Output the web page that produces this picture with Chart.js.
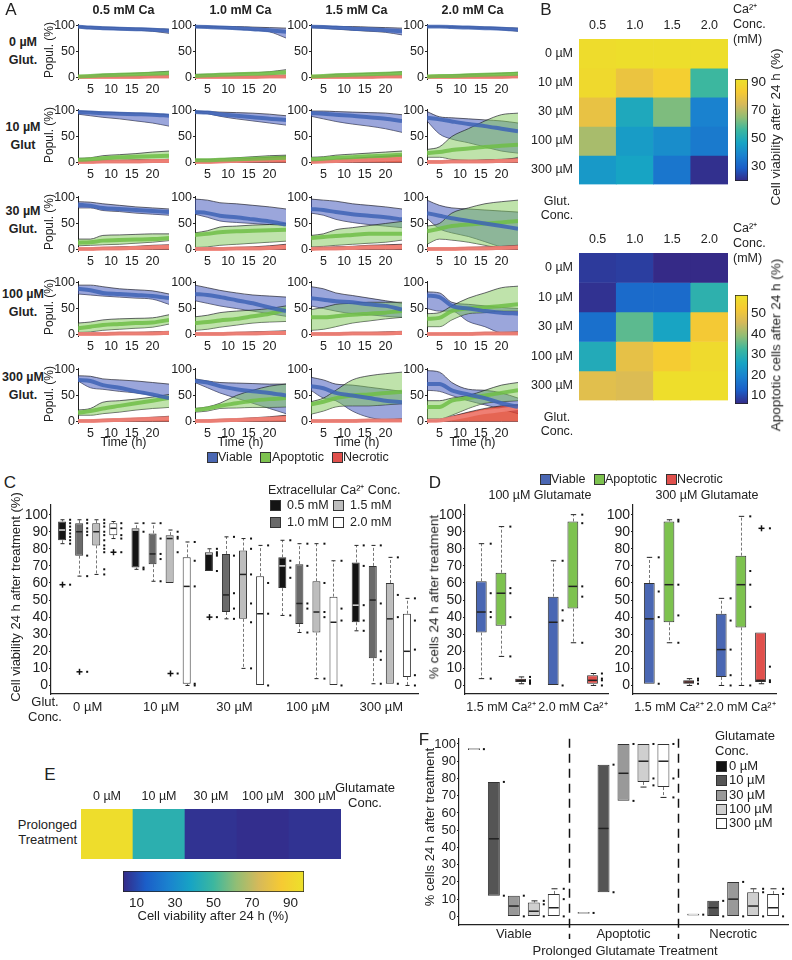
<!DOCTYPE html>
<html>
<head>
<meta charset="utf-8">
<title>Glutamate / calcium cell viability figure</title>
<script src="https://cdn.jsdelivr.net/npm/chart.js@4.4.1/dist/chart.umd.min.js"></script>
<style>
  body { margin: 0; background: #fff; }
  #fig { position: relative; width: 792px; height: 960px; overflow: hidden;
         font-family: "Liberation Sans", Arial, sans-serif; color: #222; }
  #fig canvas { position: absolute; }
  .t { position: absolute; white-space: pre; line-height: 1.15; }
  .sw { position: absolute; width: 9px; height: 9px; border: 1px solid #333; }
</style>
</head>
<body>
<div id="fig"></div>
<script>
'use strict';

// ---------------- data ----------------
const caLevels = ['0.5', '1.0', '1.5', '2.0'];
const glutLevels = ['0 µM', '10 µM', '30 µM', '100 µM', '300 µM'];
const yTicks10 = [0, 10, 20, 30, 40, 50, 60, 70, 80, 90, 100];

// A: population time courses, [glut row][Ca column][time]
const hours = [2, 5, 8, 12, 16, 20, 24];
const timeTicks = [5, 10, 15, 20];
const viableHi = [
  [[99,98,97,96,95,94,93], [99,99,98,98,97,96,95], [99,99,98,98,97,96,95], [99,99,98,98,97,96,95]],
  [[99,98,97,96,95,94,92], [99,98,97,96,95,93,90], [99,99,98,97,96,95,92], [98,88,86,84,82,80,76]],
  [[92,91,88,85,82,80,78], [97,95,90,88,85,82,78], [97,95,93,88,85,82,78], [95,85,80,78,76,74,72]],
  [[95,95,92,88,86,84,78], [95,90,85,80,76,74,72], [92,88,80,75,70,65,60], [82,80,62,58,55,52,50]],
  [[88,87,82,80,78,75,72], [82,78,75,74,73,72,72], [85,80,72,70,66,62,58], [98,95,75,62,60,55,45]]
];
const viableMid = [
  [[98,96,95,94,93,92,90], [98,97,96,95,93,91,88], [98,97,96,94,93,91,89], [98,98,97,96,95,94,92]],
  [[97,96,95,94,93,92,90], [97,96,93,90,87,84,82], [95,94,92,90,87,84,80], [86,83,79,74,70,65,60]],
  [[86,84,80,78,76,74,72], [72,70,65,62,58,54,48], [78,76,72,68,65,62,58], [70,65,60,55,50,45,40]],
  [[88,85,80,78,76,74,70], [78,76,72,66,60,52,45], [70,67,64,62,58,55,48], [75,72,55,50,45,42,40]],
  [[80,78,70,65,58,52,45], [78,75,68,62,58,55,50], [68,64,55,50,45,40,37], [72,72,60,52,45,35,28]]
];
const viableLo = [
  [[96,94,93,92,91,89,85], [96,96,95,93,91,88,76], [96,95,93,91,89,87,82], [97,97,96,95,94,92,89]],
  [[93,90,87,84,80,76,70], [96,94,89,84,80,76,72], [89,84,79,74,70,65,58], [80,55,45,38,30,22,18]],
  [[80,80,75,73,70,68,66], [68,62,55,52,50,48,46], [70,66,58,52,48,45,42], [60,40,32,25,15,5,2]],
  [[78,76,74,72,70,68,58], [65,60,55,50,45,40,35], [55,50,45,40,38,35,33], [50,45,45,25,15,3,2]],
  [[78,65,62,58,55,50,42], [75,65,55,45,35,25,15], [60,45,40,20,8,3,2], [60,58,50,40,32,24,15]]
];
const apopHi = [
  [[3,4,6,7,8,10,12], [6,6,7,8,9,11,15], [3,4,6,7,8,9,11], [3,4,5,6,7,8,10]],
  [[8,9,13,15,17,20,22], [6,6,7,9,11,13,14], [10,11,14,16,18,20,22], [25,30,50,65,80,92,95]],
  [[20,20,27,28,29,30,30], [32,36,43,45,47,48,50], [27,30,38,42,46,50,54], [45,50,70,80,88,92,95]],
  [[22,24,28,30,31,32,38], [34,37,42,45,47,50,55], [48,52,58,60,62,62,62], [40,42,55,70,80,90,93]],
  [[22,25,37,40,43,47,52], [25,28,35,50,60,68,72], [38,45,60,80,88,92,95], [40,40,45,50,60,70,75]]
];
const apopMid = [
  [[2,3,4,5,6,7,8], [3,4,5,6,7,8,10], [2,3,4,5,6,7,8], [2,3,3,4,5,6,7]],
  [[5,6,8,10,11,12,13], [4,4,5,6,7,8,9], [6,7,9,10,12,13,15], [18,20,24,27,30,32,34]],
  [[13,14,17,18,19,20,22], [28,30,33,35,36,37,38], [22,24,26,28,30,30,30], [35,40,45,48,50,52,55]],
  [[12,15,18,20,22,23,28], [22,24,27,30,35,40,48], [33,33,35,38,40,42,45], [30,32,45,50,52,55,58]],
  [[17,20,25,30,35,40,45], [22,25,30,35,40,43,45], [33,38,45,50,52,55,57], [28,28,40,45,50,55,60]]
];
const apopLo = [
  [[1,1,2,2,2,3,3], [1,1,2,2,2,3,3], [1,1,2,2,2,3,3], [1,1,1,2,2,2,3]],
  [[2,3,3,4,4,5,5], [1,2,2,3,3,4,4], [2,3,3,4,5,6,7], [10,10,6,4,3,4,10]],
  [[7,8,9,10,12,14,17], [4,5,8,10,12,14,16], [5,6,8,10,12,14,18], [10,20,18,14,8,3,3]],
  [[4,5,8,10,12,14,20], [8,10,14,18,22,24,25], [8,10,15,22,26,30,33], [15,15,28,40,42,45,45]],
  [[12,12,15,18,22,25,27], [18,20,25,26,27,27,28], [14,20,28,30,30,32,34], [5,5,12,25,35,38,40]]
];
const necrHi = [
  [[2,2,3,3,3,4,4], [2,2,3,3,3,4,4], [2,2,3,3,3,4,4], [2,2,2,3,3,3,4]],
  [[3,3,4,4,5,5,6], [2,3,4,6,8,10,12], [3,4,6,8,10,12,14], [3,3,4,4,5,6,8]],
  [[2,3,4,5,6,8,9], [2,3,3,4,5,7,10], [3,4,5,6,8,9,10], [2,3,3,4,5,6,8]],
  [[3,3,3,4,4,5,6], [2,3,3,4,5,6,7], [2,3,3,4,4,5,6], [2,2,3,3,4,4,5]],
  [[2,3,4,5,6,8,10], [2,3,4,5,7,9,12], [2,2,3,3,4,4,5], [2,3,10,18,25,30,32]]
];
const necrMid = [
  [[1,1,1,1,1,2,2], [1,1,1,1,1,2,2], [1,1,1,1,1,2,2], [1,1,1,1,1,1,2]],
  [[1,1,2,2,2,3,3], [1,1,2,3,4,5,6], [1,2,3,4,5,6,7], [1,1,2,2,2,3,4]],
  [[1,1,2,2,3,4,5], [1,1,1,2,2,3,5], [1,2,2,3,4,4,5], [1,1,1,2,2,3,4]],
  [[1,1,1,2,2,2,3], [1,1,1,2,2,3,3], [1,1,1,2,2,2,3], [1,1,1,1,2,2,2]],
  [[1,1,2,3,4,5,6], [1,1,2,3,4,5,6], [1,1,1,1,2,2,2], [1,2,6,12,18,22,26]]
];

// B: heat maps, [glut row][Ca column]
const viability24 = [
  [90, 91, 91, 91],
  [89, 80, 85, 56],
  [79, 49, 63, 38],
  [68, 45, 41, 36],
  [44, 47, 35, 21]
];
const apoptotic24 = [
  [8, 8.5, 6, 6],
  [7, 15, 15, 30],
  [16, 35, 26, 52],
  [28, 49, 53, 57],
  [48, 47, 58, 58]
];

// C: viability box plots, [Ca level][glut level]
const cLo  = [[83, 68, 67, 41, 32], [64, 61, 39, 31, 1], [65, 60, 10, 4, 1], [86, 0, 0, 0, 0]];
const cQ1  = [[85, 69, 67, 57, 37], [76, 71, 43, 36, 16], [82, 60, 39, 31, 1], [88, 1, 0, 0, 5]];
const cMed = [[91, 91, 77, 70, 47], [90, 77, 53, 48, 50], [90, 86, 65, 43, 39], [92, 58, 42, 37, 20]];
const cQ3  = [[96, 92, 78, 75, 72], [95, 89, 77, 71, 70], [95, 88, 79, 61, 60], [95, 75, 64, 52, 42]];
const cHi  = [[97, 95, 80, 85, 82], [97, 95, 87, 83, 82], [97, 91, 86, 83, 75], [96, 84, 82, 73, 51]];
const cOut = [[[59], [], [40], [], []], [[8], [], [], [], []], [[], [7], [], [], []], [[78], [], [], [], []]];
const cDots = [
  [[97,95,93,91,89,87,85,83,59], [95,90,69,68], [80,78,77,76,67,40], [85,73,69,63,41], [82,70,47,38,32]],
  [[97,95,92,90,88,76,64,8], [95,86,77,74,61], [87,76,54,45,39], [83,70,48,45,31], [82,48,20,15,1]],
  [[97,95,93,90,88,85,82,80,78,68,65], [90,87,86,78,7], [86,80,65,48,37,10], [83,60,43,40,4], [75,53,40,1]],
  [[95,92,88,86,78], [84,73,58,1,0], [82,60,42,0], [73,45,38,0], [51,38,21,6,0]]
];

// D: population box plots, [population][Ca 1.5, 2.0]
const dCaLabels = ['1.5 mM Ca²⁺', '2.0 mM Ca²⁺'];
const popNames = ['Viable', 'Apoptotic', 'Necrotic'];
const d100Lo  = [[4, 0], [17, 25], [1, 0]];
const d100Q1  = [[31, 0], [35, 45], [2, 1]];
const d100Med = [[43, 37], [54, 58], [3, 3]];
const d100Q3  = [[61, 52], [66, 96], [4, 6]];
const d100Hi  = [[83, 73], [93, 100], [5, 7]];
const d100Dots = [[[83,54,43,40,4], [73,44,38,0]], [[93,57,54,40,17], [100,95,58,52,25]], [[5,3,2,1], [7,4,3,0]]];
const d300Lo  = [[1, 0], [25, 0], [0, 1]];
const d300Q1  = [[1, 5], [37, 34], [1, 2]];
const d300Med = [[39, 21], [59, 59], [2, 3]];
const d300Q3  = [[60, 42], [96, 76], [3, 31]];
const d300Hi  = [[75, 51], [97, 99], [4, 31]];
const d300Out = [[[], []], [[], []], [[], [92]]];
const d300Dots = [[[75,55,40,1], [51,38,21,6,0]], [[97,96,59,41,25], [99,67,59,46,0]], [[4,3,1], [92,11,3,2]]];

// E: prolonged treatment viability, per glut level
const prolongedViability = [95, 45, 5, 4, 5];

// F: prolonged treatment box plots, [glut level][population]
const fLo  = [[97, 2, 1], [12, 14, 0], [0, 67, 0], [0, 75, 0], [0, 69, 0]];
const fQ1  = [[96.5, 1.5, 0.5], [12, 14, 0], [0, 67, 0], [0, 78, 0], [0, 75, 0]];
const fMed = [[97, 2, 1], [45, 51, 5], [6, 83, 10], [3, 90, 6], [5, 90, 5]];
const fQ3  = [[97.5, 2.5, 1.5], [78, 88, 9], [12, 100, 20], [8, 100, 14], [13, 100, 13]];
const fHi  = [[97, 2, 1], [78, 88, 9], [12, 100, 20], [9, 100, 16], [16, 100, 16]];
const fDots = [
  [[97], [2], [1]],
  [[78,12], [88,14], [9,0]],
  [[12,0], [100,67], [20,0]],
  [[9,7,0], [100,80,76], [16,14,0]],
  [[16,10,0], [100,80,69], [16,13,0]]
];

// ---------------- helpers ----------------
const fig = document.getElementById('fig');
Chart.defaults.font.family = '"Liberation Sans", Arial, sans-serif';
Chart.defaults.color = '#222';
Chart.defaults.animation = false;
Chart.defaults.responsive = false;
Chart.defaults.plugins.legend.display = false;
Chart.defaults.plugins.tooltip.enabled = false;

const popColors = ['#4a67b3', '#7dc24f', '#e0504c'];
const cBoxColors = ['#141414', '#6a6a6a', '#bdbdbd', '#ffffff'];
const fBoxColors = ['#111111', '#555555', '#999999', '#cfcfcf', '#ffffff'];
// parula-like colour map, slightly muted like the printed figure
const parulaStops = ['#352a87', '#1b5ec8', '#1a82cf', '#17a4c4', '#3cb79f', '#91be75', '#d6b95a', '#f6ca33', '#ece12a'];

function hexRgb(h) {
  return [1, 3, 5].map(i => parseInt(h.slice(i, i + 2), 16));
}

function parula(v, lo, hi) {
  const n = parulaStops.length - 1;
  const t = Math.min(1, Math.max(0, (v - lo) / (hi - lo))) * n;
  const i = Math.min(Math.floor(t), n - 1);
  const f = t - i;
  const a = hexRgb(parulaStops[i]), b = hexRgb(parulaStops[i + 1]);
  return 'rgb(' + a.map((c, k) => Math.round(c + (b[k] - c) * f)).join(',') + ')';
}

function addCanvas(x, y, w, h) {
  const c = document.createElement('canvas');
  c.width = w;
  c.height = h;
  c.style.left = x + 'px';
  c.style.top = y + 'px';
  c.style.width = w + 'px';
  c.style.height = h + 'px';
  fig.appendChild(c);
  return c;
}

function txt(s, x, y, o = {}) {
  const d = document.createElement('div');
  d.className = 't';
  d.textContent = s;
  d.style.fontSize = (o.size || 13) + 'px';
  if (o.bold) d.style.fontWeight = 'bold';
  if (o.lh) d.style.lineHeight = o.lh + 'px';
  d.style.textAlign = o.align || 'center';
  d.style.left = x + 'px';
  d.style.top = y + 'px';
  const ax = o.align === 'left' ? '0' : o.align === 'right' ? '-100%' : '-50%';
  d.style.transform = 'translate(' + ax + ',-50%)' + (o.rot ? ' rotate(-90deg)' : '');
  fig.appendChild(d);
}

function swatch(x, y, color) {
  const d = document.createElement('div');
  d.className = 'sw';
  d.style.left = x + 'px';
  d.style.top = (y - 5) + 'px';
  d.style.background = color;
  fig.appendChild(d);
}

const fixedTicks = list => s => { s.ticks = list.map(v => ({value: v})); };

// ---------------- A: small population charts ----------------
const aColLeft = [78, 195, 311, 427];
const aRowTop = [22, 107, 194, 279, 366];
const aPlotW = 91, aPlotH = 57;
const edge = 'rgba(30,30,40,0.85)';

function popChart(r, c) {
  const cv = addCanvas(aColLeft[c] - 32, aRowTop[r] - 6, 32 + aPlotW + 4, 6 + aPlotH + 20);
  const pts = arr => hours.map((h, i) => ({x: h, y: arr[i]}));
  const zero = hours.map(() => 0);
  const band = (hi, lo, fill, order) => [
    {data: pts(hi), fill: '+1', backgroundColor: fill, borderColor: edge, borderWidth: 0.8, order: order},
    {data: pts(lo), fill: false, borderColor: edge, borderWidth: 0.8, order: order}
  ];
  const mid = (m, color) => ({data: pts(m), fill: false, borderColor: color, borderWidth: 4, order: 0});
  new Chart(cv, {
    type: 'line',
    data: {datasets: [
      ...band(viableHi[r][c], viableLo[r][c], 'rgba(72,92,190,0.55)', 3),
      ...band(apopHi[r][c], apopLo[r][c], 'rgba(128,200,88,0.5)', 2),
      ...band(necrHi[r][c], zero, 'rgba(222,62,40,0.8)', 1),
      mid(viableMid[r][c], 'rgba(62,100,182,0.85)'),
      mid(apopMid[r][c], 'rgba(112,190,72,0.85)'),
      mid(necrMid[r][c], 'rgba(240,130,120,0.9)')
    ]},
    options: {
      layout: {padding: {top: 6, right: 4}},
      elements: {point: {radius: 0}, line: {cubicInterpolationMode: 'monotone'}},
      scales: {
        x: {
          type: 'linear', min: 2, max: 24,
          afterBuildTicks: fixedTicks(timeTicks),
          afterFit: s => { s.height = 20; },
          grid: {display: false, drawTicks: false},
          border: {display: false},
          ticks: {font: {size: 12.5}, padding: 3, autoSkip: false, maxRotation: 0}
        },
        y: {
          min: -3, max: 102,
          afterBuildTicks: fixedTicks([0, 50, 100]),
          afterFit: s => { s.width = 32; },
          grid: {drawOnChartArea: false, tickLength: 2, color: '#222'},
          border: {color: '#222'},
          ticks: {font: {size: 12.5}, padding: 1, autoSkip: false}
        }
      }
    }
  });
}

const aColTitles = ['0.5 mM Ca', '1.0 mM Ca', '1.5 mM Ca', '2.0 mM Ca'];
const aRowTitles = ['0 µM\nGlut.', '10 µM\nGlut', '30 µM\nGlut.', '100 µM\nGlut.', '300 µM\nGlut.'];
const aRowCenters = [51, 136, 220, 303, 386];

for (let r = 0; r < 5; r++) {
  for (let c = 0; c < 4; c++) popChart(r, c);
  txt(aRowTitles[r], 23, aRowCenters[r], {bold: true, size: 12.5, lh: 18});
  txt('Popul. (%)', 50, aRowTop[r] + 28, {rot: true, size: 12});
}
aColTitles.forEach((t, c) => {
  txt(t, aColLeft[c] + aPlotW / 2, 10, {bold: true, size: 12.5});
  txt('Time (h)', aColLeft[c] + aPlotW / 2, 442, {size: 12.5});
});
txt('A', 11, 10, {size: 17});

// legend under A
[[207, 218], [260, 272], [332, 343]].forEach(([sx, tx], k) => {
  swatch(sx, 457, popColors[k]);
  txt(popNames[k], tx, 457, {align: 'left', size: 12.5});
});

// ---------------- B / E: heat maps and colour bars ----------------
function heatmap(cfg) {
  const cv = addCanvas(cfg.x, cfg.y, cfg.w, cfg.h);
  new Chart(cv, {
    type: 'bar',
    data: {
      labels: cfg.cols,
      datasets: cfg.values.map((row, r) => ({
        data: cfg.cols.map(() => [r, r + 1]),
        backgroundColor: row.map(v => parula(v, cfg.lo, cfg.hi)),
        borderWidth: 0, grouped: false, barPercentage: 1, categoryPercentage: 1
      }))
    },
    options: {
      layout: {padding: {right: cfg.padR || 0, bottom: cfg.padB || 0}},
      scales: {
        x: {
          position: 'top',
          grid: {display: false, drawTicks: false}, border: {display: false},
          afterFit: s => { s.height = cfg.xH; },
          ticks: {font: {size: 12.5}, padding: cfg.xPad, autoSkip: false, maxRotation: 0}
        },
        y: {
          display: !!cfg.rows, min: 0, max: cfg.values.length, reverse: true,
          afterBuildTicks: fixedTicks(cfg.values.map((_, i) => i + 0.5)),
          afterFit: s => { s.width = cfg.yW || 0; },
          grid: {display: false, drawTicks: false}, border: {display: false},
          ticks: {font: {size: 12.5}, padding: 6, autoSkip: false, callback: (v, i) => cfg.rows ? cfg.rows[i] : ''}
        }
      }
    }
  });
}

function colorbar(cfg) {
  const cv = addCanvas(cfg.x, cfg.y, cfg.w, cfg.h);
  const grad = ctx => {
    const ch = ctx.chart, a = ch.chartArea;
    if (!a) return '#888';
    const g = cfg.horizontal
      ? ch.ctx.createLinearGradient(a.left, 0, a.right, 0)
      : ch.ctx.createLinearGradient(0, a.bottom, 0, a.top);
    parulaStops.forEach((c, i) => g.addColorStop(i / (parulaStops.length - 1), c));
    return g;
  };
  const valueAxis = {
    min: cfg.lo, max: cfg.hi,
    afterBuildTicks: fixedTicks(cfg.ticks),
    grid: {drawOnChartArea: false, drawTicks: false}, border: {display: false},
    ticks: {font: {size: 13.5}, padding: 3, autoSkip: false}
  };
  if (cfg.horizontal) {
    valueAxis.afterFit = s => { s.height = cfg.axisSize; };
  } else {
    valueAxis.position = 'right';
    valueAxis.afterFit = s => { s.width = cfg.axisSize; };
  }
  new Chart(cv, {
    type: 'bar',
    data: {labels: [''], datasets: [{
      data: [[cfg.lo, cfg.hi]], backgroundColor: grad, borderColor: '#222', borderWidth: 1,
      borderSkipped: false, barPercentage: 1, categoryPercentage: 1
    }]},
    options: {
      indexAxis: cfg.horizontal ? 'y' : 'x',
      layout: {padding: cfg.pad},
      scales: cfg.horizontal ? {x: valueAxis, y: {display: false}} : {x: {display: false}, y: valueAxis}
    }
  });
}

// B top: viability
heatmap({x: 520, y: 12, w: 210, h: 186, yW: 59, xH: 27, xPad: 6, padR: 2, padB: 2,
  cols: caLevels, rows: glutLevels, values: viability24, lo: 20, hi: 92});
colorbar({x: 735, y: 68, w: 40, h: 124, lo: 20, hi: 92, ticks: [30, 50, 70, 90], axisSize: 27,
  pad: {top: 4, bottom: 4}});
txt('Glut.\nConc.', 557, 208, {size: 12.5, lh: 14});
txt('Ca²⁺\nConc.\n(mM)', 733, 24, {align: 'left', size: 12.5, lh: 15});
txt('Cell viability after 24 h (%)', 776, 127, {rot: true, size: 13.5});

// B bottom: apoptotic cells
heatmap({x: 520, y: 226, w: 210, h: 188, yW: 59, xH: 27, xPad: 6, padR: 2, padB: 2,
  cols: caLevels, rows: glutLevels, values: apoptotic24, lo: 6, hi: 59});
colorbar({x: 735, y: 284, w: 40, h: 131, lo: 6, hi: 59, ticks: [10, 20, 30, 40, 50], axisSize: 27,
  pad: {top: 4, bottom: 4}});
txt('Glut.\nConc.', 557, 424, {size: 12.5, lh: 14});
txt('Ca²⁺\nConc.\n(mM)', 733, 243, {align: 'left', size: 12.5, lh: 15});
txt('Apoptotic cells after 24 h (%)', 776, 345, {rot: true, size: 13.5});
txt('B', 546, 10, {size: 17});

// E: prolonged treatment
heatmap({x: 81, y: 785, w: 260, h: 74, xH: 24, xPad: 5,
  cols: glutLevels, rows: null, values: [prolongedViability], lo: 3, hi: 97});
colorbar({x: 123, y: 871, w: 185, h: 39, lo: 3, hi: 97, ticks: [10, 30, 50, 70, 90], axisSize: 18,
  horizontal: true, pad: {right: 4}});
txt('Glutamate\nConc.', 365, 795, {size: 13, lh: 15});
txt('Prolonged\nTreatment', 77, 832, {align: 'right', size: 13, lh: 15});
txt('Cell viability after 24 h (%)', 213, 916, {size: 13});
txt('E', 50, 775, {size: 17});

// ---------------- C / D / F: box plots ----------------
const boxPlugin = {
  id: 'boxParts',
  afterDatasetsDraw(chart) {
    const ctx = chart.ctx, ys = chart.scales.y;
    const py = v => ys.getPixelForValue(v);
    const seg = (x1, y1, x2, y2) => { ctx.beginPath(); ctx.moveTo(x1, y1); ctx.lineTo(x2, y2); ctx.stroke(); };
    chart.data.datasets.forEach((ds, di) => {
      chart.getDatasetMeta(di).data.forEach((bar, i) => {
        const s = ds.stats[i];
        const box = ds.data[i];
        const x = Math.round(bar.x) + 0.5, w = bar.width;
        ctx.save();
        ctx.lineWidth = 1;
        ctx.strokeStyle = '#777';
        ctx.setLineDash([3, 2]);
        if (s.hi > box[1]) seg(x, py(box[1]), x, py(s.hi));
        if (s.lo < box[0]) seg(x, py(box[0]), x, py(s.lo));
        ctx.setLineDash([]);
        ctx.strokeStyle = '#222';
        if (s.hi > box[1]) seg(x - w / 4, py(s.hi), x + w / 4, py(s.hi));
        if (s.lo < box[0]) seg(x - w / 4, py(s.lo), x + w / 4, py(s.lo));
        ctx.strokeStyle = ds.medianColor;
        ctx.lineWidth = 1.5;
        seg(bar.x - w / 2 + 1, py(s.med), bar.x + w / 2 - 1, py(s.med));
        ctx.strokeStyle = '#111';
        s.out.forEach(v => { seg(x - 3, py(v), x + 3, py(v)); seg(x, py(v) - 3, x, py(v) + 3); });
        ctx.fillStyle = '#111';
        s.dots.forEach(v => ctx.fillRect(bar.x + w / 2 + 3, py(v) - 1, 2, 2));
        ctx.restore();
      });
    });
  }
};

const sepPlugin = {
  id: 'separators',
  afterDraw(chart) {
    const xs = chart.scales.x, a = chart.chartArea, ctx = chart.ctx;
    ctx.save();
    ctx.setLineDash([9, 6]);
    ctx.lineWidth = 1.5;
    ctx.strokeStyle = '#111';
    for (let i = 1; i < chart.data.labels.length; i++) {
      const px = Math.round((xs.getPixelForTick(i - 1) + xs.getPixelForTick(i)) / 2) + 0.5;
      ctx.beginPath();
      ctx.moveTo(px, a.top);
      ctx.lineTo(px, a.bottom + 14);
      ctx.stroke();
    }
    ctx.restore();
  }
};

function boxChart(cfg) {
  const cv = addCanvas(cfg.x, cfg.y, cfg.w, cfg.h);
  return new Chart(cv, {
    type: 'bar',
    data: {
      labels: cfg.labels,
      datasets: cfg.sets.map(s => ({
        data: s.q1.map((q, i) => [q, s.q3[i]]),
        stats: s.q1.map((q, i) => ({
          lo: s.lo[i], med: s.med[i], hi: s.hi[i],
          out: s.out ? s.out[i] : [], dots: s.dots ? s.dots[i] : []
        })),
        backgroundColor: s.color, medianColor: s.medianColor || '#222',
        borderColor: '#333', borderWidth: 1, borderSkipped: false,
        barPercentage: cfg.barPct, categoryPercentage: cfg.catPct
      }))
    },
    options: {
      layout: {padding: {top: cfg.padTop, right: 2}},
      scales: {
        x: {
          grid: {display: false, drawTicks: false}, border: {color: '#222', width: 1.2},
          afterFit: s => { s.height = cfg.xH; },
          ticks: {font: {size: cfg.xSize || 13}, padding: cfg.xPad, autoSkip: false, maxRotation: 0}
        },
        y: {
          min: cfg.yMin, max: cfg.yMax,
          afterBuildTicks: fixedTicks(yTicks10),
          afterFit: s => { s.width = cfg.yW; },
          grid: {drawOnChartArea: false, tickLength: 2, color: '#222'},
          border: {color: '#222', width: 1.2},
          ticks: {font: {size: cfg.tickSize}, padding: 1, autoSkip: false}
        }
      }
    },
    plugins: [boxPlugin].concat(cfg.plugins || [])
  });
}

// C
boxChart({
  x: 0, y: 495, w: 420, h: 221, yW: 51, padTop: 8, xH: 22, xPad: 6,
  yMin: -5, yMax: 106, catPct: 0.93, barPct: 0.47, tickSize: 14,
  labels: glutLevels,
  sets: caLevels.map((ca, k) => ({
    color: cBoxColors[k], medianColor: k === 0 ? '#dddddd' : '#222222',
    lo: cLo[k], q1: cQ1[k], med: cMed[k], q3: cQ3[k], hi: cHi[k], out: cOut[k], dots: cDots[k]
  }))
});
txt('C', 10, 483, {size: 17});
txt('Cell viability 24 h after treatment (%)', 16, 597, {rot: true, size: 13});
txt('Glut.\nConc.', 45, 709, {size: 13, lh: 15});
txt('Extracellular Ca²⁺ Conc.', 268, 490, {align: 'left', size: 12.5});
[[270, 505], [270, 522], [333, 505], [333, 522]].forEach(([sx, sy], k) => {
  swatch(sx, sy, cBoxColors[k]);
  txt(caLevels[k] + ' mM', sx + 17, sy, {align: 'left', size: 12.5});
});

// D
const d100Sets = popNames.map((p, k) => ({
  color: popColors[k], lo: d100Lo[k], q1: d100Q1[k], med: d100Med[k], q3: d100Q3[k], hi: d100Hi[k], dots: d100Dots[k]
}));
const d300Sets = popNames.map((p, k) => ({
  color: popColors[k], lo: d300Lo[k], q1: d300Q1[k], med: d300Med[k], q3: d300Q3[k], hi: d300Hi[k],
  out: d300Out[k], dots: d300Dots[k]
}));
[[435, d100Sets], [603, d300Sets]].forEach(([x, sets]) => {
  boxChart({
    x: x, y: 495, w: 179, h: 221, yW: 30, padTop: 8, xH: 22, xPad: 6, xSize: 12.5,
    yMin: -5, yMax: 106, catPct: 0.82, barPct: 0.55, tickSize: 14,
    labels: dCaLabels, sets: sets
  });
});
txt('D', 435, 483, {size: 17});
txt('100 µM Glutamate', 540, 495, {size: 12.5});
txt('300 µM Glutamate', 707, 495, {size: 12.5});
txt('% cells 24 h after treatment', 434, 597, {rot: true, size: 13.5});
[[540, 551], [594, 605], [666, 677]].forEach(([sx, tx], k) => {
  swatch(sx, 479, popColors[k]);
  txt(popNames[k], tx, 479, {align: 'left', size: 12.5});
});

// F
boxChart({
  x: 425, y: 730, w: 365, h: 217, yW: 34, padTop: 7, xH: 22, xPad: 2,
  yMin: -5, yMax: 103, catPct: 0.91, barPct: 0.6, tickSize: 13,
  labels: popNames,
  sets: glutLevels.map((g, k) => ({
    color: fBoxColors[k], medianColor: k === 0 ? '#dddddd' : '#222222',
    lo: fLo[k], q1: fQ1[k], med: fMed[k], q3: fQ3[k], hi: fHi[k], dots: fDots[k]
  })),
  plugins: [sepPlugin]
});
txt('F', 424, 740, {size: 17});
txt('% cells 24 h after treatment', 430, 827, {rot: true, size: 13});
txt('Prolonged Glutamate Treatment', 625, 951, {size: 13});
txt('Glutamate', 715, 736, {align: 'left', size: 13});
txt('Conc.', 715, 751, {align: 'left', size: 13});
glutLevels.forEach((g, k) => {
  const y = 766 + k * 14.3;
  swatch(716, y, fBoxColors[k]);
  txt(g, 729, y, {align: 'left', size: 13});
});
</script>
</body>
</html>
